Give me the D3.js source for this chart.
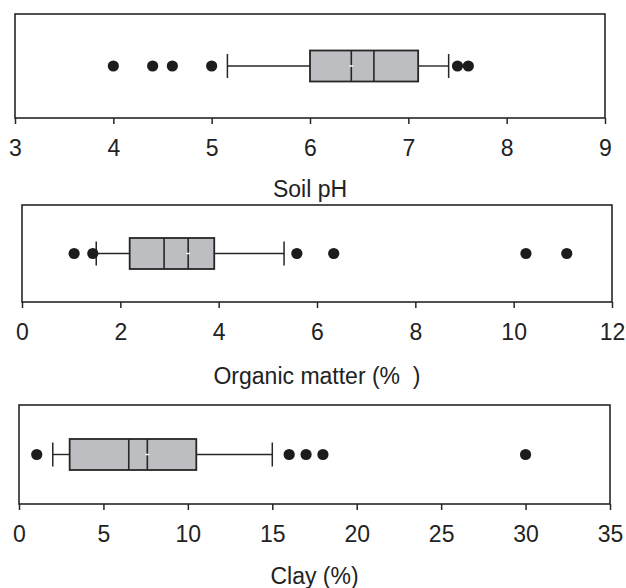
<!DOCTYPE html>
<html>
<head>
<meta charset="utf-8">
<script src="https://cdn.jsdelivr.net/npm/d3@7.9.0/dist/d3.min.js"></script>
<style>
  html, body { margin: 0; padding: 0; background: #fff; }
  text { font-family: "Liberation Sans", Arial, sans-serif; fill: #222; white-space: pre; }
</style>
</head>
<body>
<svg id="chart" width="626" height="588"></svg>
<script>
// values, one entry per panel (pH, organic matter, clay)
const axisLabels = ["Soil pH", "Organic matter (%  )", "Clay (%)"];
const domains = [[3, 9], [0, 12], [0, 35]];
const tickValues = [
  [3, 4, 5, 6, 7, 8, 9],
  [0, 2, 4, 6, 8, 10, 12],
  [0, 5, 10, 15, 20, 25, 30, 35],
];
const whiskerLow = [5.16, 1.51, 2.0];
const q1 = [6.0, 2.19, 3.0];
const median = [6.65, 2.89, 6.5];
const mean = [6.42, 3.38, 7.6];
const q3 = [7.1, 3.91, 10.5];
const whiskerHigh = [7.41, 5.33, 15.0];
const outliers = [
  [4.0, 4.4, 4.6, 5.0, 7.5, 7.61],
  [1.06, 1.44, 5.59, 6.34, 10.25, 11.08],
  [1.05, 16, 17, 18, 30],
];

// panel frames in pixels
const frames = [
  { left: 15, right: 605, top: 14, bottom: 118, labelY: 197 },
  { left: 22, right: 612, top: 205, bottom: 302, labelY: 384 },
  { left: 19, right: 610, top: 405, bottom: 504, labelY: 584 },
];

const ink = "#262626";
const svg = d3.select("#chart");

frames.forEach((f, i) => {
  const x = d3.scaleLinear().domain(domains[i]).range([f.left, f.right]);
  const cy = (f.top + f.bottom) / 2;
  const boxH = 31;
  const capH = 24;
  const g = svg.append("g");

  // axis along the bottom edge
  const axis = d3.axisBottom(x)
    .tickValues(tickValues[i])
    .tickFormat(d3.format("d"))
    .tickSizeOuter(0).tickSize(6).tickPadding(6);
  const ag = g.append("g").attr("transform", `translate(0,${f.bottom})`).call(axis);
  ag.select(".domain").remove();
  ag.selectAll(".tick line").attr("stroke", ink).attr("stroke-width", 1.5);
  ag.selectAll(".tick text")
    .attr("font-size", 23)
    .attr("fill", ink)
    .attr("dy", null)
    .attr("y", 38);

  // frame
  g.append("rect")
    .attr("x", f.left).attr("y", f.top)
    .attr("width", f.right - f.left).attr("height", f.bottom - f.top)
    .attr("fill", "none").attr("stroke", ink).attr("stroke-width", 1.6);

  // whiskers
  g.append("line")
    .attr("x1", x(whiskerLow[i])).attr("x2", x(q1[i]))
    .attr("y1", cy).attr("y2", cy)
    .attr("stroke", ink).attr("stroke-width", 1.4);
  g.append("line")
    .attr("x1", x(q3[i])).attr("x2", x(whiskerHigh[i]))
    .attr("y1", cy).attr("y2", cy)
    .attr("stroke", ink).attr("stroke-width", 1.4);
  [whiskerLow[i], whiskerHigh[i]].forEach((v) => {
    g.append("line")
      .attr("x1", x(v)).attr("x2", x(v))
      .attr("y1", cy - capH / 2).attr("y2", cy + capH / 2)
      .attr("stroke", ink).attr("stroke-width", 1.5);
  });

  // box
  g.append("rect")
    .attr("x", x(q1[i])).attr("y", cy - boxH / 2)
    .attr("width", x(q3[i]) - x(q1[i])).attr("height", boxH)
    .attr("fill", "#bdbec1").attr("stroke", ink).attr("stroke-width", 1.8);

  // median and mean lines
  g.append("line")
    .attr("x1", x(median[i])).attr("x2", x(median[i]))
    .attr("y1", cy - boxH / 2).attr("y2", cy + boxH / 2)
    .attr("stroke", ink).attr("stroke-width", 1.6);
  g.append("line")
    .attr("x1", x(mean[i])).attr("x2", x(mean[i]))
    .attr("y1", cy - boxH / 2).attr("y2", cy + boxH / 2)
    .attr("stroke", ink).attr("stroke-width", 1.6);
  g.append("line")
    .attr("x1", x(mean[i]) - 2).attr("x2", x(mean[i]) + 2)
    .attr("y1", cy).attr("y2", cy)
    .attr("stroke", "#fff").attr("stroke-width", 1.5);

  // outliers
  g.selectAll("circle.out")
    .data(outliers[i])
    .join("circle")
    .attr("class", "out")
    .attr("cx", (d) => x(d)).attr("cy", cy).attr("r", 5.6)
    .attr("fill", "#1c1c1c");

  // axis title
  g.append("text")
    .attr("x", (f.left + f.right) / 2).attr("y", f.labelY)
    .attr("text-anchor", "middle").attr("font-size", 23)
    .text(axisLabels[i]);
});
</script>
</body>
</html>
